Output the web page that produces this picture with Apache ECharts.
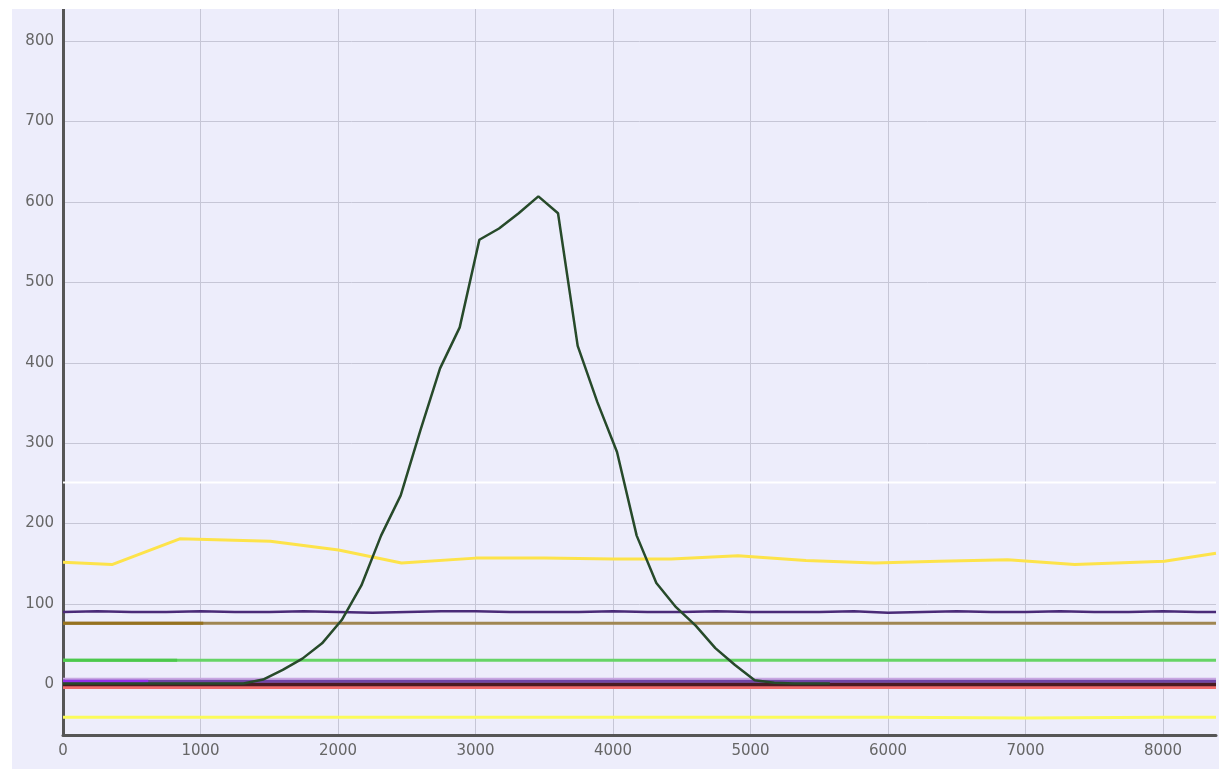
<!DOCTYPE html>
<html>
<head>
<meta charset="utf-8">
<script src="https://cdn.jsdelivr.net/npm/echarts@6/dist/echarts.min.js"></script>
<style>
  html, body { margin: 0; padding: 0; background: #ffffff; }
  #chart { position: absolute; left: 12px; top: 9px; width: 1207px; height: 760px; background: #ededfb; }
</style>
</head>
<body>
<div id="chart"></div>
<script>
// main peak curve
const peakX = [0, 300, 600, 900, 1169, 1312, 1455, 1598, 1741, 1884, 2027, 2170, 2313, 2456, 2599, 2742, 2885, 3028, 3171, 3314, 3457, 3600, 3743, 3886, 4029, 4172, 4315, 4458, 4601, 4744, 4887, 5030, 5173, 5316, 5459, 5577];
const peakY = [1, 1, 1, 1, 1, 1, 6, 18, 32, 51, 80, 123, 185, 235, 316, 393, 444, 553, 567, 586, 607, 586, 421, 351, 289, 185, 126, 96, 73, 45, 24, 5, 2, 1, 1, 1];

// gold line around 150-180
const goldX = [0, 356, 849, 1508, 2004, 2462, 2999, 3500, 4001, 4423, 4909, 5403, 5904, 6370, 6870, 7357, 8010, 8385];
const goldY = [152, 149, 181, 178, 167, 151, 157, 157, 156, 156, 160, 154, 151, 153, 155, 149, 153, 163];

// wavy purple line ~90
const purpleX = [0, 250, 500, 750, 1000, 1250, 1500, 1750, 2000, 2250, 2500, 2750, 3000, 3250, 3500, 3750, 4000, 4250, 4500, 4750, 5000, 5250, 5500, 5750, 6000, 6250, 6500, 6750, 7000, 7250, 7500, 7750, 8000, 8250, 8385];
const purpleY = [90, 91, 90, 90, 91, 90, 90, 91, 90, 89, 90, 91, 91, 90, 90, 90, 91, 90, 90, 91, 90, 90, 90, 91, 89, 90, 91, 90, 90, 91, 90, 90, 91, 90, 90];

// pale yellow line below zero
const lowX = [0, 1000, 2000, 3000, 4000, 5000, 6000, 7000, 8000, 8385];
const lowY = [-41, -41, -41, -41, -41, -41, -41, -42, -41, -41];

// flat lines: [y value, x start, x end]
const whiteLine = [251, 0, 8385];
const brownLine = [76, 0, 8385];
const brownShort = [76, 0, 1020];
const greenLine = [30, 0, 8385];
const greenShort = [30, 0, 830];
const lilacLine = [7, 0, 8385];
const violetLine = [4, 0, 8385];
const violetShort = [4, 0, 620];
const maroonLine = [0, 0, 8385];
const redLine = [-4, 0, 8385];

function pairs(xs, ys) {
  return xs.map((x, i) => [x, ys[i]]);
}
function flat(def) {
  return [[def[1], def[0]], [def[2], def[0]]];
}
function line(data, color, width, z) {
  return {
    type: 'line',
    data: data,
    showSymbol: false,
    symbol: 'none',
    lineStyle: { color: color, width: width },
    z: z || 2,
    silent: true,
  };
}

const labelFont = { color: '#666666', fontSize: 15, fontFamily: 'DejaVu Sans', margin: 9 };

const chart = echarts.init(document.getElementById('chart'), null, { renderer: 'canvas' });

chart.setOption({
  animation: false,
  grid: { left: 51, right: 0, top: 0, bottom: 34 },
  xAxis: {
    type: 'value',
    min: 0,
    max: 8385,
    splitNumber: 8,
    axisLine: { onZero: false, lineStyle: { color: '#555555', width: 3 } },
    axisTick: { show: false },
    axisLabel: Object.assign({}, labelFont, {
      formatter: (v) => (v % 1000 === 0 ? String(v) : ''),
    }),
    splitLine: { showMaxLine: false, lineStyle: { color: '#c6c6d6', width: 1 } },
  },
  yAxis: {
    type: 'value',
    min: -63,
    max: 840,
    splitNumber: 9,
    axisLine: { show: true, onZero: false, lineStyle: { color: '#555555', width: 3 } },
    axisTick: { show: false },
    axisLabel: Object.assign({}, labelFont, {
      formatter: (v) => (v % 100 === 0 ? String(v) : ''),
    }),
    splitLine: { showMaxLine: false, lineStyle: { color: '#c6c6d6', width: 1 } },
  },
  series: [
    line(pairs(lowX, lowY), '#fbfb5a', 3),
    line(flat(redLine), '#f06a6a', 3),
    line(flat(maroonLine), '#4a1a22', 4),
    line(flat(lilacLine), '#c8a6e2', 2),
    line(flat(violetLine), '#7045a6', 3),
    line(flat(violetShort), '#9530ec', 3),
    line(flat(greenLine), '#66d466', 3),
    line(flat(greenShort), '#4cc84c', 3),
    line(flat(brownLine), '#a08652', 3),
    line(flat(brownShort), '#96721f', 3),
    line(pairs(purpleX, purpleY), '#4a2a78', 2.5),
    line(flat(whiteLine), '#ffffff', 2),
    line(pairs(goldX, goldY), '#fde34a', 3),
    line(pairs(peakX, peakY), '#274a2a', 2.5, 5),
  ],
});
</script>
</body>
</html>
